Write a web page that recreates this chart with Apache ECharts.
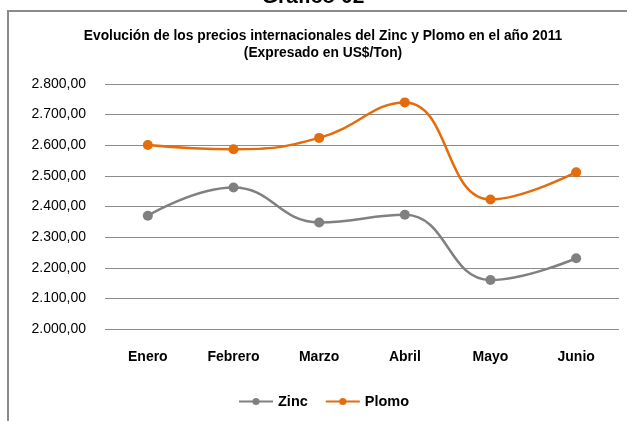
<!DOCTYPE html>
<html>
<head>
<meta charset="utf-8">
<script src="https://cdn.jsdelivr.net/npm/echarts@6/dist/echarts.min.js"></script>
<style>
  html, body { margin: 0; padding: 0; background: #fff; }
  #container { width: 627px; height: 421px; }
</style>
</head>
<body>
<div id="container"></div>
<script>
var meses = ['Enero', 'Febrero', 'Marzo', 'Abril', 'Mayo', 'Junio'];
var zinc = [2370, 2462, 2348, 2373, 2160, 2231];
var plomo = [2601, 2587, 2624, 2740, 2423, 2512];

var dom = document.getElementById('container');
var myChart = echarts.init(dom);

// 2.800,00 formato es
function fmt(v) {
  var s = v.toFixed(2).split('.');
  return s[0].replace(/\B(?=(\d{3})+(?!\d))/g, '.') + ',' + s[1];
}

var option = {
  backgroundColor: '#fff',
  animation: false,
  textStyle: { fontFamily: 'Liberation Sans, Arial, sans-serif' },
  title: {
    text: 'Evolución de los precios internacionales del Zinc y Plomo en el año 2011\n(Expresado en US$/Ton)',
    left: 318,
    top: 23,
    textAlign: 'center',
    textStyle: { fontSize: 13.8, fontWeight: 'bold', color: '#000', lineHeight: 17 }
  },
  legend: {
    top: 389,
    left: 233,
    itemWidth: 34,
    itemHeight: 9,
    itemGap: 17,
    textStyle: { fontSize: 14.5, fontWeight: 'bold', color: '#000' },
    data: ['Zinc', 'Plomo']
  },
  grid: { left: 105, right: 8, top: 84, bottom: 92, containLabel: false },
  xAxis: {
    type: 'category',
    data: meses,
    axisLine: { show: false },
    axisTick: { show: false },
    axisLabel: { fontSize: 14, fontWeight: 'bold', color: '#000', margin: 21 }
  },
  yAxis: {
    type: 'value',
    min: 2000,
    max: 2800,
    interval: 100,
    axisLine: { show: false },
    axisTick: { show: false },
    splitLine: { lineStyle: { color: '#8c8c8c', width: 1 } },
    axisLabel: { fontSize: 14, color: '#000', margin: 19, formatter: fmt }
  },
  series: [
    {
      name: 'Zinc',
      type: 'line',
      smooth: 0.45,
      data: zinc,
      symbol: 'circle',
      symbolSize: 10,
      color: '#808080',
      lineStyle: { width: 2.5, color: '#808080' },
      itemStyle: { color: '#808080' }
    },
    {
      name: 'Plomo',
      type: 'line',
      smooth: 0.45,
      data: plomo,
      symbol: 'circle',
      symbolSize: 10,
      color: '#E46C0A',
      lineStyle: { width: 2.5, color: '#E46C0A' },
      itemStyle: { color: '#E46C0A' }
    }
  ],
  graphic: [
    {
      type: 'polyline',
      shape: { points: [[8, 421], [8, 11], [627, 11]] },
      style: { stroke: '#8a8a8a', lineWidth: 2, fill: null }
    },
    {
      type: 'text',
      x: 313,
      y: 8,
      style: {
        text: 'Gráfico 02',
        font: 'bold 21px Liberation Sans, Arial, sans-serif',
        fill: '#000',
        textAlign: 'center',
        textVerticalAlign: 'bottom'
      }
    }
  ]
};

myChart.setOption(option, true);
window.onresize = myChart.resize;
</script>
</body>
</html>
